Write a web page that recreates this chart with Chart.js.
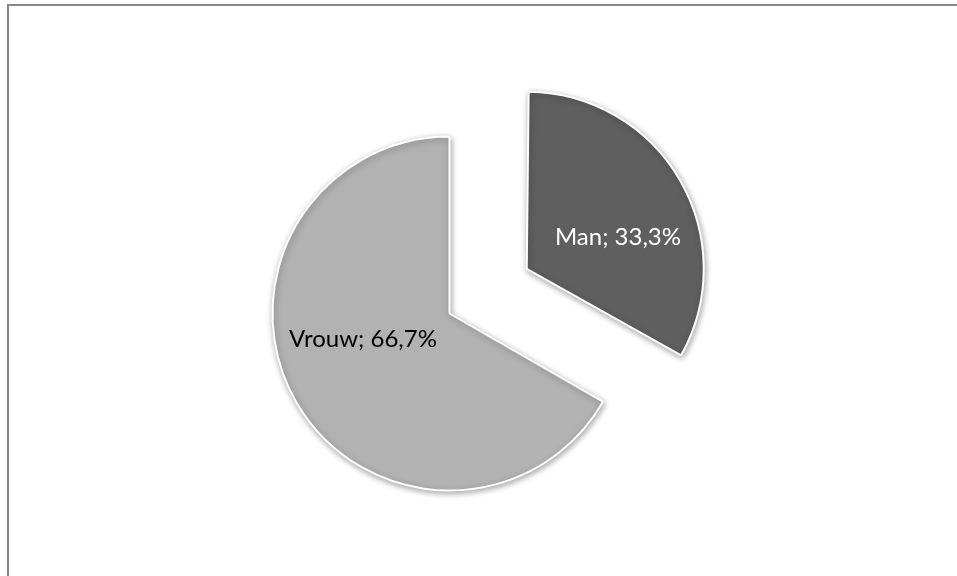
<!DOCTYPE html>
<html>
<head>
<meta charset="utf-8">
<script src="https://cdn.jsdelivr.net/npm/chart.js@4"></script>
<style>
  html, body { margin: 0; padding: 0; background: #fff; }
  canvas { display: block; }
</style>
</head>
<body>
<canvas id="pie" width="957" height="576"></canvas>
<script>
const categories = ["Man", "Vrouw"];
const shares = [33.3, 66.7];
const sliceColors = ["#5f5f5f", "#b2b2b2"];

// where each label sits inside its slice: fraction of the sweep, fraction of the radius
const labelPlacement = [
  { along: 0.59, out: 0.585, color: "#ffffff" },
  { along: 0.556, out: 0.51, color: "#000000" },
];

const frame = {
  id: "frame",
  beforeDraw(chart) {
    const { ctx, width, height } = chart;
    ctx.save();
    ctx.strokeStyle = "#878787";
    ctx.lineWidth = 2;
    ctx.beginPath();
    ctx.moveTo(width, 5);
    ctx.lineTo(8, 5);
    ctx.lineTo(8, height);
    ctx.stroke();
    ctx.restore();
  },
};

// an exploded arc is drawn a bit larger by Chart.js; pull it back to the pie radius
const keepRadius = {
  id: "keepRadius",
  afterUpdate(chart) {
    chart.getDatasetMeta(0).data.forEach((arc) => {
      const shift = (arc.options.offset || 0) / 4;
      const fix = 1 - Math.sin(Math.min(Math.PI, arc.circumference || 0));
      arc.outerRadius -= shift * fix;
    });
  },
};

const shadow = {
  id: "shadow",
  beforeDatasetsDraw(chart) {
    const ctx = chart.ctx;
    ctx.save();
    ctx.shadowColor = "rgba(0,0,0,0.35)";
    ctx.shadowBlur = 6;
    ctx.shadowOffsetX = 1;
    ctx.shadowOffsetY = 2;
  },
  afterDatasetsDraw(chart) {
    chart.ctx.restore();
  },
};

const sliceLabels = {
  id: "sliceLabels",
  afterDatasetsDraw(chart) {
    const ctx = chart.ctx;
    const meta = chart.getDatasetMeta(0);
    ctx.save();
    ctx.font = "24px Lato, 'Open Sans', sans-serif";
    ctx.textAlign = "center";
    ctx.textBaseline = "middle";
    meta.data.forEach((arc, i) => {
      const { x, y, startAngle, endAngle } = arc;
      const shift = (arc.options.offset || 0) / 4;
      const half = (startAngle + endAngle) / 2;
      const p = labelPlacement[i];
      const a = startAngle + (endAngle - startAngle) * p.along;
      const r = arc.outerRadius * p.out;
      const lx = x + Math.cos(half) * shift + Math.cos(a) * r;
      const ly = y + Math.sin(half) * shift + Math.sin(a) * r;
      const text = categories[i] + "; " + shares[i].toFixed(1).replace(".", ",") + "%";
      ctx.fillStyle = p.color;
      ctx.fillText(text, lx, ly);
    });
    ctx.restore();
  },
};

new Chart(document.getElementById("pie"), {
  type: "pie",
  data: {
    labels: categories,
    datasets: [{
      data: shares,
      backgroundColor: sliceColors,
      borderColor: "#ffffff",
      borderWidth: 2,
      offset: [357, 0],
    }],
  },
  options: {
    responsive: false,
    animation: false,
    events: [],
    radius: 177,
    layout: { padding: { left: 0, right: 58, top: 51, bottom: 0 } },
    plugins: {
      legend: { display: false },
      tooltip: { enabled: false },
    },
  },
  plugins: [frame, keepRadius, shadow, sliceLabels],
});
</script>
</body>
</html>
